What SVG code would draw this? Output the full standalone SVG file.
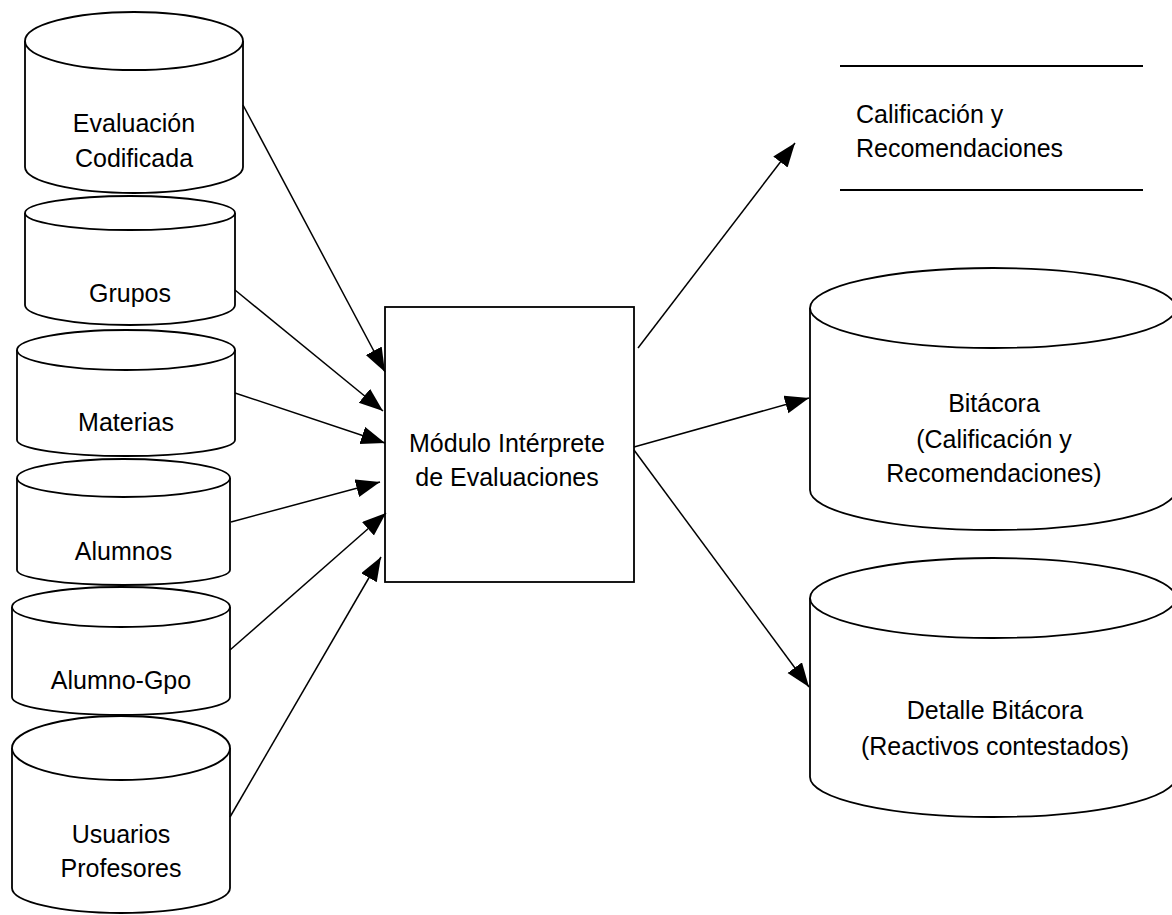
<svg xmlns="http://www.w3.org/2000/svg" width="1172" height="915" viewBox="0 0 1172 915">
<defs>
<marker id="arr" markerUnits="userSpaceOnUse" markerWidth="26" markerHeight="20" refX="24" refY="9" orient="auto">
<path d="M0,0 L24,9 L0,18 Z" fill="#000"/>
</marker>
<style>
.shape{fill:#fff;stroke:#000;stroke-width:1.8}
.conn{fill:none;stroke:#000;stroke-width:1.5;marker-end:url(#arr)}
.line{stroke:#000;stroke-width:1.8}
text{font-family:"Liberation Sans",Arial,sans-serif;font-size:25px;fill:#000}
.c{text-anchor:middle}
</style>
</defs>
<rect width="1172" height="915" fill="#fff"/>

<g id="evaluacion-codificada">
<path class="shape" d="M25,41 L25,167 A109,26 0 0 0 243,167 L243,41"/>
<ellipse class="shape" cx="134" cy="41" rx="109" ry="29"/>
<text class="c" x="134" y="132">Evaluación</text>
<text class="c" x="134" y="167">Codificada</text>
</g>

<g id="grupos">
<path class="shape" d="M25,213 L25,305 A105,20 0 0 0 235,305 L235,213"/>
<ellipse class="shape" cx="130" cy="213" rx="105" ry="17"/>
<text class="c" x="130" y="302">Grupos</text>
</g>

<g id="materias">
<path class="shape" d="M17,350 L17,440 A109,16 0 0 0 235,440 L235,350"/>
<ellipse class="shape" cx="126" cy="350" rx="109" ry="20"/>
<text class="c" x="126" y="431">Materias</text>
</g>

<g id="alumnos">
<path class="shape" d="M17,478 L17,570 A106.5,15 0 0 0 230,570 L230,478"/>
<ellipse class="shape" cx="123.5" cy="478" rx="106.5" ry="19"/>
<text class="c" x="123.5" y="560">Alumnos</text>
</g>

<g id="alumno-gpo">
<path class="shape" d="M12,607 L12,697 A109,18 0 0 0 230,697 L230,607"/>
<ellipse class="shape" cx="121" cy="607" rx="109" ry="20"/>
<text class="c" x="121" y="689">Alumno-Gpo</text>
</g>

<g id="usuarios-profesores">
<path class="shape" d="M12,748 L12,888 A109,25 0 0 0 230,888 L230,748"/>
<ellipse class="shape" cx="121" cy="748" rx="109" ry="32"/>
<text class="c" x="121" y="843">Usuarios</text>
<text class="c" x="121" y="877">Profesores</text>
</g>

<g id="modulo-interprete">
<rect class="shape" x="385" y="307" width="249" height="275"/>
<text class="c" x="507" y="452">Módulo Intérprete</text>
<text class="c" x="507" y="486">de Evaluaciones</text>
</g>

<g id="calificacion-recomendaciones">
<line class="line" x1="840" y1="66" x2="1143" y2="66"/>
<line class="line" x1="840" y1="190" x2="1143" y2="190"/>
<text x="856" y="123">Calificación y</text>
<text x="856" y="157">Recomendaciones</text>
</g>

<g id="bitacora">
<path class="shape" d="M810,308 L810,490 A183,40 0 0 0 1176,490 L1176,308"/>
<ellipse class="shape" cx="993" cy="308" rx="183" ry="40"/>
<text class="c" x="994" y="412">Bitácora</text>
<text class="c" x="994" y="448">(Calificación y</text>
<text class="c" x="994" y="482">Recomendaciones)</text>
</g>

<g id="detalle-bitacora">
<path class="shape" d="M810,598 L810,777 A183,40 0 0 0 1176,777 L1176,598"/>
<ellipse class="shape" cx="993" cy="598" rx="183" ry="40"/>
<text class="c" x="995" y="719">Detalle Bitácora</text>
<text class="c" x="995" y="755">(Reactivos contestados)</text>
</g>

<g id="connectors">
<line class="conn" x1="243" y1="105" x2="385" y2="372"/>
<line class="conn" x1="235" y1="290" x2="383" y2="411"/>
<line class="conn" x1="235" y1="393" x2="385" y2="443"/>
<line class="conn" x1="231" y1="522" x2="380" y2="482"/>
<line class="conn" x1="230" y1="650" x2="386" y2="513"/>
<line class="conn" x1="230" y1="817" x2="381" y2="557"/>
<line class="conn" x1="638" y1="348" x2="795" y2="143"/>
<line class="conn" x1="634" y1="447" x2="809" y2="398"/>
<line class="conn" x1="634" y1="450" x2="809" y2="687"/>
</g>
</svg>
